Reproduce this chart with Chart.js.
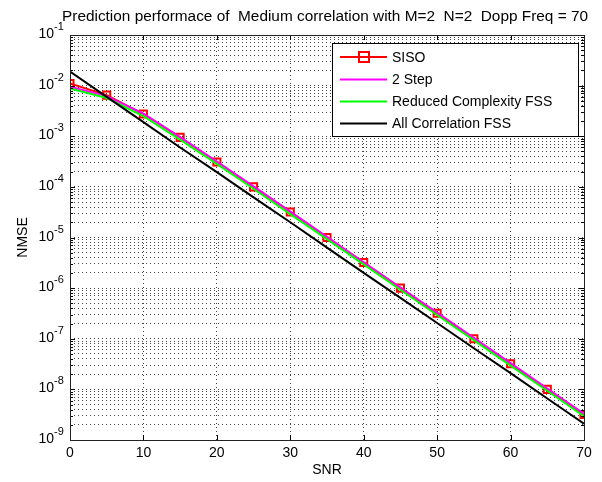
<!DOCTYPE html>
<html>
<head>
<meta charset="utf-8">
<script src="https://cdn.jsdelivr.net/npm/chart.js@4.4.0/dist/chart.umd.min.js"></script>
<style>
  html, body { margin: 0; padding: 0; background: #fff; }
</style>
</head>
<body>
<canvas id="myChart" width="602" height="482"></canvas>
<script>
// values
const snr = [0, 5, 10, 15, 20, 25, 30, 35, 40, 45, 50, 55, 60, 65, 70]
const siso = [1.1e-2, 6.5e-3, 2.75e-3, 9.5e-4, 3.1e-4, 1e-4, 3.2e-5, 1e-5, 3.2e-6, 1e-6, 3.2e-7, 1e-7, 3.2e-8, 1e-8, 3.2e-9]
const twoStep = [9.5e-3, 6.2e-3, 2.8e-3, 9.6e-4, 3.15e-4, 1.02e-4, 3.25e-5, 1.03e-5, 3.25e-6, 1.03e-6, 3.3e-7, 1.04e-7, 3.3e-8, 1.04e-8, 3.3e-9]
const reduced = [8.8e-3, 5.7e-3, 2.5e-3, 8.6e-4, 2.85e-4, 9.2e-5, 2.9e-5, 9.3e-6, 2.95e-6, 9.3e-7, 2.95e-7, 9.4e-8, 2.95e-8, 9.4e-9, 2.95e-9]
const allCorr = [1.9e-2, 6e-3, 1.9e-3, 6e-4, 1.95e-4, 6.2e-5, 2e-5, 6.3e-6, 2e-6, 6.4e-7, 2.05e-7, 6.5e-8, 2.1e-8, 6.6e-9, 2.1e-9]

const xTicks = [0, 10, 20, 30, 40, 50, 60, 70]
const yExponents = [-9, -8, -7, -6, -5, -4, -3, -2, -1]
const minorSteps = [2, 3, 4, 5, 6, 7, 8, 9]

const titleText = 'Prediction performace of  Medium correlation with M=2  N=2  Dopp Freq = 70'
const xTitle = 'SNR'
const yTitle = 'NMSE'

const FONT = '"Liberation Sans", Arial, Helvetica, sans-serif'

// every log tick: decades + 2..9 in between
let yTickValues = []
yExponents.forEach((e, i) => {
  yTickValues.push(Math.pow(10, e))
  if (i < yExponents.length - 1) {
    minorSteps.forEach(m => yTickValues.push(m * Math.pow(10, e)))
  }
})

const isDecade = (v) => Math.abs(Math.log10(v) - Math.round(Math.log10(v))) < 1e-6

const decor = {
  id: 'decor',
  afterDraw(chart) {
    const ctx = chart.ctx
    const a = chart.chartArea
    const xs = chart.scales.x
    const ys = chart.scales.y
    ctx.save()

    // inner tick marks
    ctx.strokeStyle = '#000'
    ctx.lineWidth = 1
    ctx.beginPath()
    ys.ticks.forEach(t => {
      const y = Math.round(ys.getPixelForValue(t.value)) + 0.5
      const len = isDecade(t.value) ? 5 : 3
      ctx.moveTo(a.left, y); ctx.lineTo(a.left + len, y)
      ctx.moveTo(a.right, y); ctx.lineTo(a.right - len, y)
    })
    xTicks.forEach(v => {
      const x = Math.round(xs.getPixelForValue(v)) + 0.5
      ctx.moveTo(x, a.bottom); ctx.lineTo(x, a.bottom - 5)
      ctx.moveTo(x, a.top); ctx.lineTo(x, a.top + 5)
    })
    ctx.stroke()

    // axes box
    ctx.strokeStyle = '#222'
    ctx.strokeRect(Math.round(a.left) + 0.5, Math.round(a.top) + 0.5,
      Math.round(a.right - a.left), Math.round(a.bottom - a.top))

    ctx.fillStyle = '#000'

    // y labels 10^n
    yExponents.forEach(e => {
      const y = ys.getPixelForValue(Math.pow(10, e))
      ctx.font = '14px ' + FONT
      ctx.textAlign = 'right'
      ctx.textBaseline = 'alphabetic'
      ctx.fillText('10', 54, y + 3)
      ctx.font = '11px ' + FONT
      ctx.textAlign = 'left'
      ctx.fillText(String(e), 54, y - 5)
    })

    // x labels
    ctx.font = '14px ' + FONT
    ctx.textAlign = 'center'
    xTicks.forEach(v => {
      ctx.fillText(String(v), xs.getPixelForValue(v), 457)
    })
    ctx.fillText(xTitle, (a.left + a.right) / 2, 474)

    // y title
    ctx.save()
    ctx.translate(27, (a.top + a.bottom) / 2)
    ctx.rotate(-Math.PI / 2)
    ctx.fillText(yTitle, 0, 0)
    ctx.restore()

    // title
    ctx.font = '14px ' + FONT
    const w = ctx.measureText(titleText).width
    ctx.save()
    ctx.translate(325, 21)
    ctx.scale(526 / w, 1)
    ctx.fillText(titleText, 0, 0)
    ctx.restore()

    // legend box
    const lx = 332, ly = 43, lw = 246, lh = 93
    ctx.fillStyle = '#fff'
    ctx.fillRect(lx, ly, lw, lh)
    ctx.strokeStyle = '#000'
    ctx.strokeRect(lx + 0.5, ly + 0.5, lw, lh)
    const rows = [57, 79.5, 101.5, 123.5]
    chart.data.datasets.forEach((ds, i) => {
      const y = rows[i]
      ctx.strokeStyle = ds.borderColor
      ctx.lineWidth = 2
      ctx.beginPath()
      ctx.moveTo(340, y); ctx.lineTo(387, y)
      ctx.stroke()
      if (ds.pointRadius > 0) {
        ctx.lineWidth = 2
        ctx.strokeRect(359, y - 5, 10, 10)
      }
      ctx.fillStyle = '#000'
      ctx.font = '14px ' + FONT
      ctx.textAlign = 'left'
      ctx.textBaseline = 'middle'
      ctx.fillText(ds.label, 392, y + 1)
    })
    ctx.restore()
  }
}

const ctx = document.getElementById('myChart')
const chart = new Chart(ctx, {
  type: 'line',
  data: {
    labels: snr,
    datasets: [{
      label: 'SISO',
      data: siso,
      borderColor: '#ff0000',
      borderWidth: 2,
      pointStyle: 'rect',
      pointRadius: 5,
      pointBorderWidth: 2,
      pointBorderColor: '#ff0000',
      pointBackgroundColor: 'rgba(0,0,0,0)',
      order: 4
    }, {
      label: '2 Step',
      data: twoStep,
      borderColor: '#ff00ff',
      borderWidth: 2,
      pointRadius: 0,
      order: 3
    }, {
      label: 'Reduced Complexity FSS',
      data: reduced,
      borderColor: '#00ff00',
      borderWidth: 2,
      pointRadius: 0,
      order: 2
    }, {
      label: 'All Correlation FSS',
      data: allCorr,
      borderColor: '#000000',
      borderWidth: 2,
      pointRadius: 0,
      order: 1
    }]
  },
  options: {
    responsive: false,
    animation: false,
    devicePixelRatio: 1,
    layout: { padding: { left: 70, top: 35, right: 18, bottom: 42 } },
    plugins: {
      legend: { display: false },
      tooltip: { enabled: false },
      title: { display: false }
    },
    scales: {
      x: {
        type: 'linear',
        min: 0,
        max: 70,
        afterBuildTicks: (axis) => { axis.ticks = xTicks.map(v => ({ value: v })) },
        ticks: { display: false },
        grid: { color: '#444', lineWidth: 1, drawTicks: false },
        border: { display: false, dash: [1, 3] }
      },
      y: {
        type: 'logarithmic',
        min: 1e-9,
        max: 1e-1,
        afterBuildTicks: (axis) => { axis.ticks = yTickValues.map(v => ({ value: v })) },
        ticks: { display: false, autoSkip: false },
        grid: { color: '#444', lineWidth: 1, drawTicks: false },
        border: { display: false, dash: [1, 3] }
      }
    }
  },
  plugins: [decor]
})
</script>
</body>
</html>
